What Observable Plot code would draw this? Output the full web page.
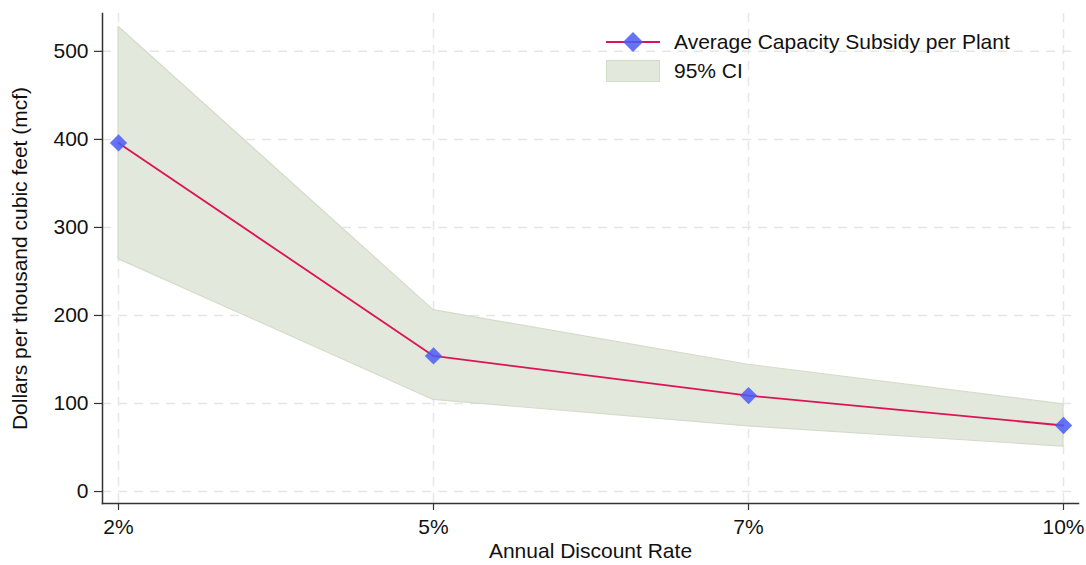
<!DOCTYPE html>
<html><head><meta charset="utf-8">
<script src="https://cdn.jsdelivr.net/npm/d3@7"></script>
<script src="https://cdn.jsdelivr.net/npm/@observablehq/plot@0.6"></script>
<style>
body{margin:0;background:#fff;font-family:"Liberation Sans",Arial,sans-serif;}
#wrap{position:relative;width:1086px;height:565px;overflow:hidden;}
#legend{position:absolute;left:606px;top:27px;font-size:21px;color:#111;line-height:29px;}
#legend div{display:flex;align-items:center;}
#legend svg{margin-right:14px;}
</style></head><body><div id="wrap"><div id="legend"></div></div>
<script>
const rates = ["2%", "5%", "7%", "10%"];
const meanSubsidy = [396, 154, 109, 75];
const ciLow = [264, 104, 74, 51];
const ciHigh = [528, 206, 144, 99];
const yTicks = [0, 100, 200, 300, 400, 500];
const seriesLabel = "Average Capacity Subsidy per Plant";
const ciLabel = "95% CI";

const data = rates.map((r, i) => ({rate: r, mean: meanSubsidy[i], lo: ciLow[i], hi: ciHigh[i]}));

const lineColor = "#dc1455";
const dotColor = "#4a5cf6";
const bandFill = "#e2e8dc";
const bandStroke = "#d3dcc8";
const gridColor = "#e6e6e6";

const chart = Plot.plot({
  width: 1086,
  height: 565,
  marginLeft: 102,
  marginRight: 8,
  marginTop: 13,
  marginBottom: 62,
  style: {fontFamily: "'Liberation Sans', Arial, sans-serif", fontSize: "21px", color: "#111", background: "#fff"},
  x: {type: "point", domain: rates, padding: 0.045, label: null},
  y: {domain: [-13.6, 543], label: null},
  marks: [
    Plot.gridY(yTicks, {stroke: gridColor, strokeOpacity: 1, strokeWidth: 1.5, strokeDasharray: "9,7"}),
    Plot.gridX(rates, {stroke: gridColor, strokeOpacity: 1, strokeWidth: 1.5, strokeDasharray: "9,7"}),
    Plot.areaY(data, {x: "rate", y1: "lo", y2: "hi", fill: bandFill, stroke: bandStroke, strokeWidth: 1.2}),
    Plot.lineY(data, {x: "rate", y: "mean", stroke: lineColor, strokeWidth: 1.8}),
    Plot.dot(data, {x: "rate", y: "mean", symbol: "diamond2", r: 7.8, fill: dotColor, fillOpacity: 0.85, stroke: "none"}),
    Plot.axisY(yTicks, {tickSize: 8, tickPadding: 6, fontSize: 21, stroke: "#333", strokeWidth: 1.2,
      label: "Dollars per thousand cubic feet (mcf)", labelAnchor: "center", labelOffset: 90, labelArrow: "none"}),
    Plot.axisX(rates, {tickSize: 7, tickPadding: 9, fontSize: 21, stroke: "#333", strokeWidth: 1.2,
      label: "Annual Discount Rate", labelAnchor: "center", labelOffset: 54, labelArrow: "none"}),
    Plot.frame({anchor: "left", stroke: "#333", strokeWidth: 1.5}),
    Plot.frame({anchor: "bottom", stroke: "#333", strokeWidth: 1.5})
  ]
});
const wrap = document.getElementById("wrap");
wrap.insertBefore(chart, wrap.firstChild);

const legend = document.getElementById("legend");
legend.innerHTML =
  `<div><svg width="54" height="24"><line x1="0" y1="12" x2="54" y2="12" stroke="${lineColor}" stroke-width="2"/>` +
  `<path d="M27,2 L37,12 L27,22 L17,12 Z" fill="${dotColor}" fill-opacity="0.85"/></svg><span>${seriesLabel}</span></div>` +
  `<div><svg width="54" height="24"><rect x="0.5" y="1.5" width="53" height="21" fill="${bandFill}" stroke="${bandStroke}"/></svg><span>${ciLabel}</span></div>`;
</script></body></html>
